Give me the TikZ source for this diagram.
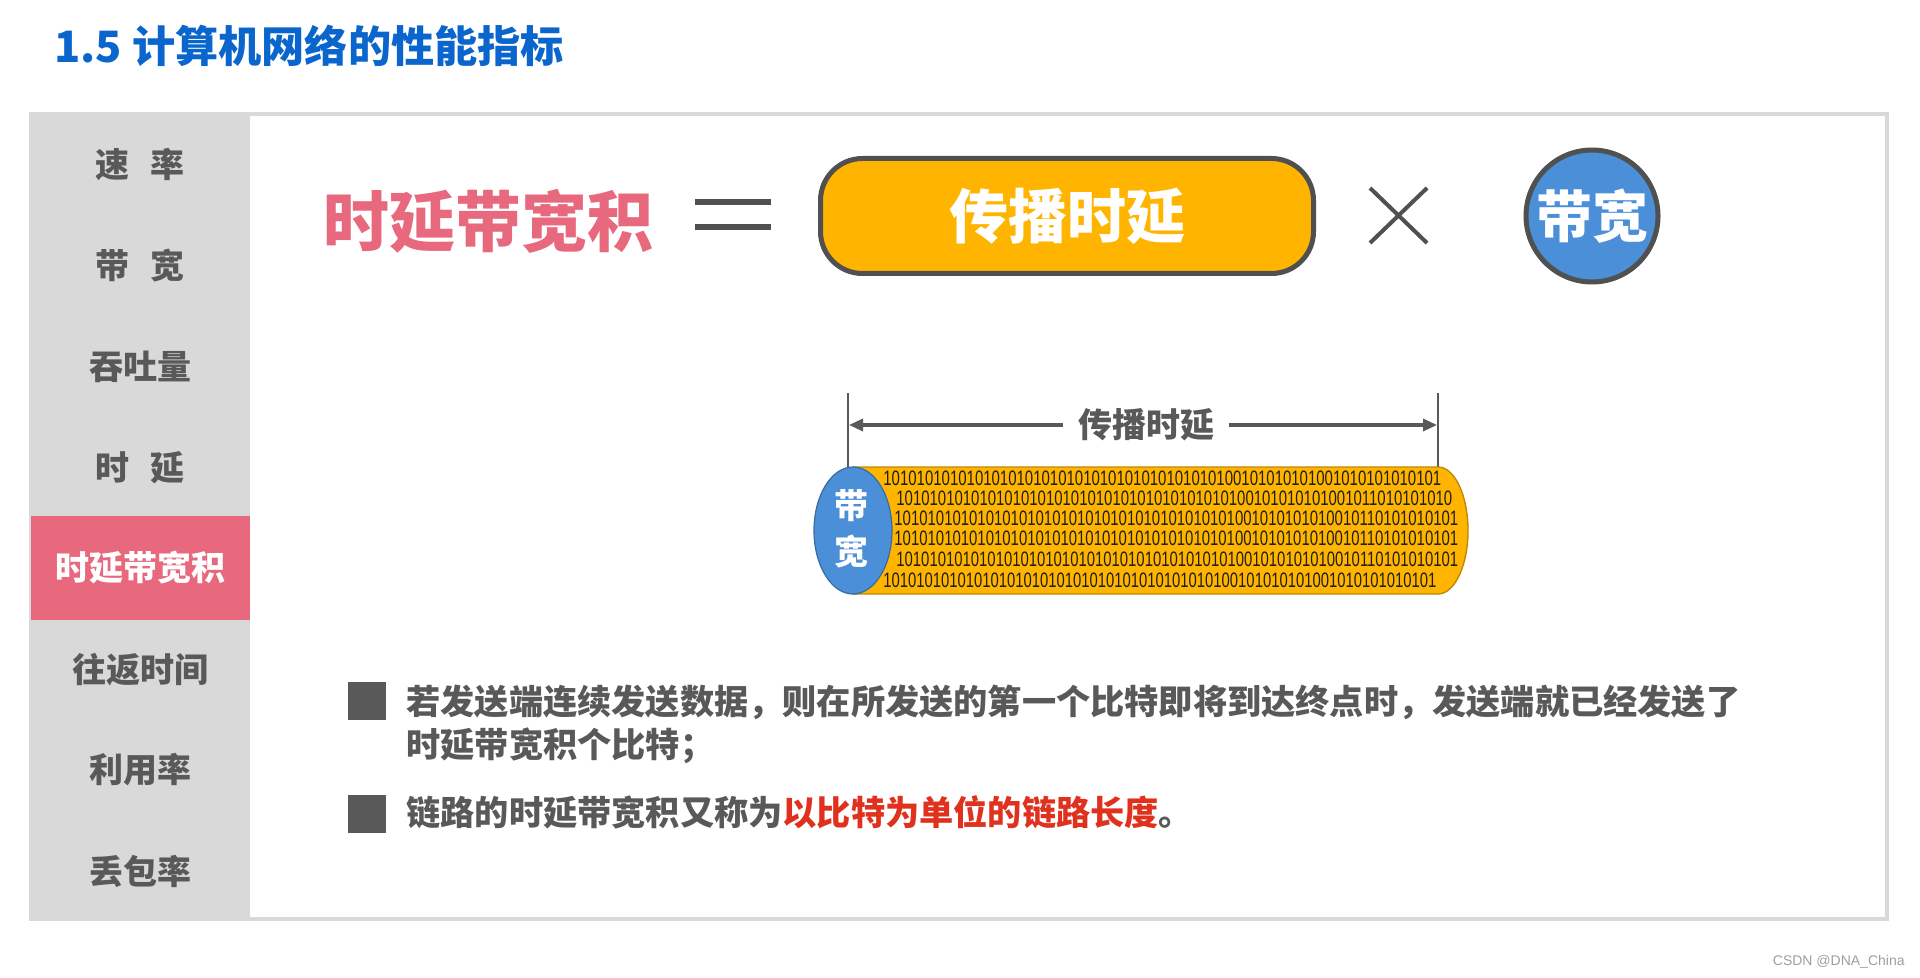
\documentclass[tikz,border=0pt]{standalone}
\usepackage{fontspec}
\usepackage{graphicx}
\newfontfamily\cjk{Noto Sans CJK SC}
\newfontfamily\digitfont{Liberation Sans}
\usetikzlibrary{arrows.meta}
\definecolor{titleblue}{HTML}{0A66CC}
\definecolor{sidegrey}{HTML}{D9D9D9}
\definecolor{textgrey}{HTML}{595959}
\definecolor{pinkhl}{HTML}{E8687E}
\definecolor{orangefill}{HTML}{FFB400}
\definecolor{bluefill}{HTML}{4A8FD8}
\definecolor{darkline}{HTML}{505050}
\definecolor{redtext}{HTML}{E0301E}
\definecolor{cylborder}{HTML}{C08A00}
\definecolor{digitcol}{HTML}{1E1E1E}
\tikzset{
  sideitem/.style={inner sep=0, text=textgrey, font=\cjk\bfseries\fontsize{17pt}{20pt}\selectfont},
  bigpink/.style={inner sep=0, font=\cjk\bfseries\fontsize{33pt}{38pt}\selectfont},
  bullettext/.style={anchor=base west, inner sep=0, text=textgrey, font=\cjk\bfseries\fontsize{17.1pt}{21pt}\selectfont},
  bulletsq/.style={fill=textgrey, minimum size=19pt, inner sep=0},
  digitrow/.style={anchor=west, inner sep=0, text=digitcol, font=\digitfont},
}
\begin{document}
\begin{tikzpicture}[x=0.5pt,y=-0.5pt]
\useasboundingbox (0,0) rectangle (1920,978);
\fill[white] (0,0) rectangle (1920,978);

% title
\node[anchor=west, inner sep=0, text=titleblue, font=\cjk\bfseries\fontsize{21.6pt}{26pt}\selectfont] (title) at (54,46) {1.5 计算机网络的性能指标};

% panel and sidebar
\draw[sidegrey, line width=2pt, fill=white] (31,114) rectangle (1887,919);
\fill[sidegrey] (31,112) rectangle (250,921);
\fill[pinkhl] (31,516) rectangle (250,620);

\node[sideitem] (s1) at (140,165) {速\hspace{0.6em}率};
\node[sideitem] (s2) at (140,266) {带\hspace{0.6em}宽};
\node[sideitem] (s3) at (140,367) {吞吐量};
\node[sideitem] (s4) at (140,468) {时\hspace{0.6em}延};
\node[sideitem, text=white] (s5) at (140,568) {时延带宽积};
\node[sideitem] (s6) at (140,670) {往返时间};
\node[sideitem] (s7) at (140,770) {利用率};
\node[sideitem] (s8) at (140,871) {丢包率};

% formula
\node[bigpink, text=pinkhl] (prod) at (488,221) {时延带宽积};

\coordinate (eqa) at (695,202);
\coordinate (eqb) at (771,202);
\coordinate (eqc) at (695,227);
\coordinate (eqd) at (771,227);
\draw[darkline, line width=2.6pt] (eqa) -- (eqb) (eqc) -- (eqd);

\node[draw=darkline, line width=2.5pt, fill=orangefill, rounded corners=21pt,
      minimum width=246.5pt, minimum height=57.5pt, inner sep=0,
      text=white, font=\cjk\bfseries\fontsize{29.5pt}{34pt}\selectfont] (prop) at (1067,216) {传播时延};

\coordinate (xa) at (1370,188);
\coordinate (xb) at (1427,243);
\coordinate (xc) at (1370,243);
\coordinate (xd) at (1427,188);
\draw[darkline, line width=2pt] (xa) -- (xb) (xc) -- (xd);

\node[circle, draw=darkline, line width=2.5pt, fill=bluefill, minimum size=66pt, inner sep=0,
      text=white, font=\cjk\bfseries\fontsize{28pt}{32pt}\selectfont] (bw) at (1592,216) {带宽};

% dimension line
\coordinate (tlt) at (848,393);
\coordinate (tlb) at (848,467);
\coordinate (trt) at (1438,393);
\coordinate (trb) at (1438,467);
\coordinate (al) at (849,425);
\coordinate (ar) at (1437,425);
\draw[textgrey, line width=1pt] (tlt) -- (tlb) (trt) -- (trb);
\draw[textgrey, line width=1.6pt, {Triangle[length=7pt,width=6pt]}-{Triangle[length=7pt,width=6pt]}] (al) -- (ar);
\node[fill=white, inner xsep=7.5pt, inner ysep=2pt, text=textgrey,
      font=\cjk\bfseries\fontsize{17pt}{20pt}\selectfont] (dimlabel) at (1146,425) {传播时延};

% cylinder
\fill[orangefill, draw=cylborder, line width=0.7pt] (853,467) -- (1438,467)
   arc[start angle=90, end angle=-90, x radius=15pt, y radius=31.75pt] -- (853,594) -- cycle;
\node[digitrow] (r1) at (883,478) {\resizebox{279pt}{7.3pt}{1010101010101010101010101010101010101010100101010101001010101010101}};
\node[digitrow] (r2) at (896,498) {\resizebox{278pt}{7.3pt}{1010101010101010101010101010101010101010100101010101001011010101010}};
\node[digitrow] (r3) at (894,518) {\resizebox{282pt}{7.3pt}{10101010101010101010101010101010101010101001010101010010110101010101}};
\node[digitrow] (r4) at (894,538) {\resizebox{282pt}{7.3pt}{10101010101010101010101010101010101010101001010101010010110101010101}};
\node[digitrow] (r5) at (896,559) {\resizebox{281pt}{7.3pt}{10101010101010101010101010101010101010101001010101010010110101010101}};
\node[digitrow] (r6) at (883,580) {\resizebox{276.5pt}{7.3pt}{1010101010101010101010101010101010101010100101010101001010101010101}};
\fill[bluefill, draw=bluefill!75!black, line width=0.6pt] (853,530.5) ellipse[x radius=19.5pt, y radius=31.75pt];
\node[align=center, inner sep=0, text=white, font=\cjk\bfseries\fontsize{17pt}{23pt}\selectfont] (cyltext) at (851,529) {带\\宽};

% bullets
\node[bulletsq] (b1) at (367,700.5) {};
\node[bulletsq] (b2) at (367,813.5) {};
\node[bullettext] (t1) at (406,714) {若发送端连续发送数据，则在所发送的第一个比特即将到达终点时，发送端就已经发送了};
\node[bullettext] (t2) at (406,757) {时延带宽积个比特；};
\node[bullettext] (t3) at (406,825) {链路的时延带宽积又称为{\color{redtext}以比特为单位的链路长度}。};

% watermark
\node[anchor=east, inner sep=0, text=gray!75, font=\digitfont\fontsize{7pt}{8pt}\selectfont] (wm) at (1905,962) {CSDN @DNA\_China};
\end{tikzpicture}
\end{document}
